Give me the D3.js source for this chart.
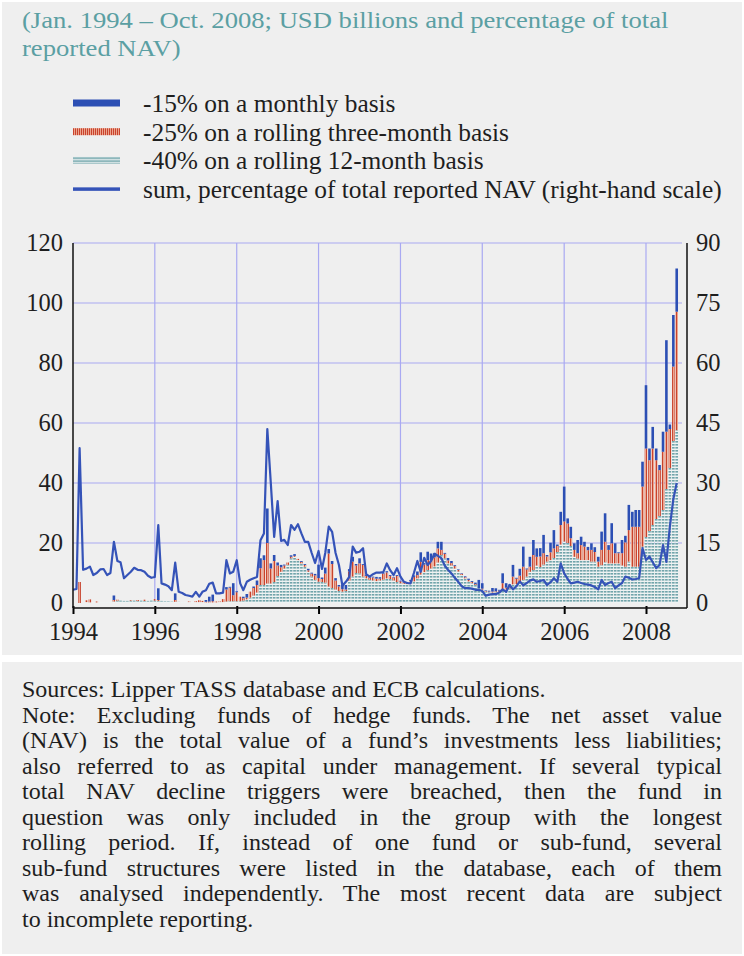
<!DOCTYPE html>
<html>
<head>
<meta charset="utf-8">
<script src="https://cdnjs.cloudflare.com/ajax/libs/d3/7.8.5/d3.min.js"></script>
<style>
    body { margin: 0; background: #fff; }
    svg text { font-family: "Liberation Serif", "DejaVu Serif", serif; }
</style>
</head>
<body>
<div id="c"></div>
<script>
"use strict";

// ---- data ----
const titleLines = [
    "(Jan. 1994 \u2013 Oct. 2008; USD billions and percentage of total",
    "reported NAV)"
]
const legendLabels = [
    "-15% on a monthly basis",
    "-25% on a rolling three-month basis",
    "-40% on a rolling 12-month basis",
    "sum, percentage of total reported NAV (right-hand scale)"
]
const noteLines = [
    "Sources: Lipper TASS database and ECB calculations.",
    "Note: Excluding funds of hedge funds. The net asset value",
    "(NAV) is the total value of a fund\u2019s investments less liabilities;",
    "also referred to as capital under management. If several typical",
    "total NAV decline triggers were breached, then the fund in",
    "question was only included in the group with the longest",
    "rolling period. If, instead of one fund or sub-fund, several",
    "sub-fund structures were listed in the database, each of them",
    "was analysed independently. The most recent data are subject",
    "to incomplete reporting."
]
const yearTicks = [1994, 1996, 1998, 2000, 2002, 2004, 2006, 2008]
const leftTicks = [0, 20, 40, 60, 80, 100, 120]
const rightTicks = [0, 15, 30, 45, 60, 75, 90]
const firstYear = 1994
const monthCount = 178   // Jan 1994 .. Oct 2008

// USD billions, -40% on a rolling 12-month basis (one row per year)
const teal12m = [
    0, 0, 0, 0, 0.3, 0.2, 0.3, 0.2, 0.2, 0.2, 0.2, 0.2,
    0.5, 0.8, 0.8, 0.7, 0.7, 0.8, 0.8, 0.7, 0.8, 0.7, 0.7, 0.8,
    0.8, 0.7, 0.7, 0.6, 0.6, 0.5, 0.4, 0.4, 0.3, 0.3, 0.3, 0.3,
    0.3, 0.3, 0.3, 0.2, 0.2, 0.2, 0.2, 0.3, 0.3, 0.5, 0.6, 0.6,
    0.6, 0.6, 0.8, 1.2, 1.8, 2.5, 3.5, 6.0, 6.0, 6.5, 6.5, 7.0,
    9.0, 10.4, 11.5, 12.7, 14.9, 15.4, 14.3, 13.2, 12.1, 10.4, 8.8, 7.7,
    7.1, 7.0, 6.8, 5.5, 5.0, 4.5, 4.0, 3.8, 4.0, 7.5, 8.8, 10.0,
    9.9, 8.8, 8.2, 7.7, 7.5, 7.3, 7.5, 7.8, 8.2, 8.0, 7.5, 7.0,
    6.6, 6.4, 6.3, 6.5, 7.2, 8.2, 9.5, 10.3, 11.0, 11.5, 12.2, 13.5,
    16.0, 14.9, 13.2, 12.5, 11.5, 10.5, 9.3, 8.2, 7.2, 6.6, 6.0, 4.9,
    4.5, 3.8, 3.6, 3.5, 3.6, 3.8, 4.2, 4.5, 4.9, 6.2, 6.3, 7.0,
    7.7, 8.8, 10.4, 11.0, 12.5, 12.0, 12.8, 13.8, 14.3, 15.0, 17.0, 19.5,
    20.5, 20.0, 19.0, 15.4, 14.8, 14.3, 14.3, 14.3, 13.8, 13.8, 12.1, 12.6,
    13.6, 13.2, 13.2, 13.2, 13.2, 12.5, 12.1, 13.8, 12.1, 12.1, 12.1, 18.8,
    22, 24, 26, 28, 29, 31, 38, 45, 54, 57.6
]
// USD billions, -25% on a rolling three-month basis
const red3m = [
    0, 0, 7.0, 0, 0.6, 1.0, 0, 0.3, 0, 0, 0, 0,
    0.5, 0.3, 0, 0, 0, 0.2, 0, 0.3, 0, 0.4, 0, 0,
    0.5, 0.3, 0, 0, 0, 0, 0.6, 0, 0, 0, 0.2, 0,
    0.3, 0.6, 0.4, 0.2, 0.3, 0.4, 0.3, 0.2, 1.0, 4.0, 4.5, 2.0,
    3.0, 1.5, 0.8, 0.6, 2.0, 2.5, 2.5, 5.6, 8.3, 13.5, 5.0, 7.0,
    3.5, 1.5, 1.0, 0.8, 0.5, 0.3, 0.4, 0.5, 0.6, 0.5, 1.0, 1.5,
    1.2, 1.0, 3.0, 11.0, 8.0, 3.0, 1.5, 0.8, 0.5, 3.0, 5.0, 2.5,
    3.3, 3.9, 0.8, 0.8, 1.0, 0.8, 0.6, 2.0, 2.0, 1.0, 1.0, 2.0,
    0.6, 0.5, 0.4, 0.8, 1.5, 1.1, 4.2, 2.5, 3.3, 2.8, 3.0, 4.7,
    1.7, 1.5, 1.0, 0.8, 0.8, 0.5, 0.4, 0.4, 0.5, 0.4, 0.3, 0,
    0.3, 0.2, 0.2, 0.3, 0.3, 0.3, 2.4, 0.6, 1.0, 2.6, 1.8, 2.1,
    4.4, 2.4, 1.7, 5.0, 2.9, 3.5, 3.8, 1.7, 2.6, 3.2, 2.0, 6.5,
    6.7, 6.5, 2.6, 2.3, 1.8, 5.0, 4.5, 3.3, 3.9, 3.2, 1.7, 5.1,
    6.8, 4.5, 6.7, 3.4, 3.4, 4.1, 8.1, 10.5, 13.3, 13.3, 13.3, 20.0,
    29.5, 23.6, 25.5, 19.6, 15.3, 19.4, 19.1, 13.0, 24.8, 39.5
]
// USD billions, -15% on a monthly basis
const blue1m = [
    0, 0, 0, 0, 0, 0, 0, 0, 0, 0, 0, 0,
    1.5, 0, 0, 0, 0, 0, 0, 0, 0, 0, 0, 0,
    0, 3.9, 0, 0, 0, 0, 2.2, 0, 0, 0, 0, 0,
    0, 0, 0, 0.6, 1.6, 2.2, 0, 0, 0, 0.8, 0.3, 4.0,
    0.3, 0, 0.5, 1.2, 0, 0.5, 1.5, 3.3, 1.6, 11.5, 1.7, 2.0,
    1.0, 0.8, 0.3, 0, 0.5, 0.6, 0, 0.3, 0.3, 0.5, 0.3, 0.5,
    4.5, 0.5, 2.0, 1.5, 1.0, 0.8, 0.5, 1.5, 1.5, 0.8, 1.6, 0.5,
    1.7, 0.3, 0.3, 0.5, 0.3, 0.6, 0.5, 0.3, 0.4, 0.3, 0.2, 0.3,
    0.2, 0.2, 0.3, 0.4, 0.5, 1.2, 3.2, 0.5, 2.8, 2.2, 1.5, 2.2,
    2.7, 0.3, 0.8, 0.7, 0.3, 0.2, 0.2, 0.3, 0.4, 0.3, 0.5, 2.8,
    1.8, 0.2, 0.3, 1.2, 1.0, 0.3, 3.3, 1.5, 0.3, 3.9, 0.3, 2.3,
    6.7, 0.3, 3.3, 5.0, 2.8, 2.8, 6.1, 0.5, 3.2, 6.1, 0.5, 4.4,
    11.6, 1.7, 3.8, 2.2, 4.4, 2.8, 1.6, 1.1, 2.2, 1.6, 1.6, 6.1,
    9.5, 1.6, 6.7, 3.3, 0.3, 4.4, 2.2, 8.4, 5.0, 5.6, 5.6, 8.3,
    21.1, 3.9, 7.2, 3.9, 1.7, 6.7, 30.5, 1.5, 17.2, 14.4
]
// sum, percentage of total reported NAV (right-hand scale)
const navShare = [
    3.3, 3.5, 38.7, 8.3, 8.6, 9.1, 7.0, 7.5, 8.4, 8.5, 7.0, 7.5,
    15.3, 10.5, 10.2, 6.2, 7.0, 7.8, 8.8, 8.3, 8.2, 7.8, 6.8, 6.3,
    6.5, 19.5, 4.9, 4.6, 4.2, 3.2, 10.1, 2.8, 2.5, 2.0, 1.8, 1.6,
    2.8, 1.6, 2.8, 3.2, 4.8, 5.1, 2.4, 2.4, 2.6, 10.7, 7.4, 7.8,
    10.7, 4.9, 3.2, 5.3, 5.8, 6.2, 6.5, 15.7, 17.4, 43.5, 30.0, 16.5,
    25.5, 15.5, 15.8, 14.5, 19.5, 18.3, 19.7, 17.4, 15.3, 15.3, 12.5, 10.0,
    13.0, 8.5, 12.5, 19.1, 17.8, 12.5, 9.5, 4.3, 5.3, 6.5, 14.1, 12.6,
    12.8, 13.7, 7.2, 6.6, 7.2, 7.6, 7.6, 7.7, 9.9, 8.2, 7.0, 8.7,
    6.6, 5.3, 5.0, 4.9, 7.5, 10.5, 7.8, 11.3, 9.5, 10.5, 12.3, 11.8,
    11.2, 9.3, 8.3, 7.4, 6.3, 5.3, 4.2, 3.7, 3.7, 3.6, 3.3, 3.3,
    3.0, 1.8, 2.1, 2.2, 2.2, 2.6, 3.4, 2.8, 4.5, 3.4, 4.2, 5.4,
    4.4, 5.0, 5.6, 5.9, 5.3, 5.5, 5.75, 4.5, 5.2, 6.2, 5.3, 9.9,
    7.4, 6.0, 4.9, 5.1, 5.3, 5.0, 4.75, 4.6, 4.4, 4.0, 3.4, 5.75,
    4.5, 5.0, 5.3, 3.7, 4.4, 5.0, 6.6, 6.3, 5.9, 6.0, 6.2, 13.7,
    10.75, 11.6, 10.2, 8.7, 9.5, 14.5, 10.3, 19.1, 26.0, 30.0
]

// ---- layout ----
const W = 744, H = 956
const plot = {left: 73, right: 682, top: 243, bottom: 603, axisY: 608, axisRight: 687}
const colors = {
    bg: "#efefef", grid: "#a9a9f2", blue: "#2c4fb4", line: "#3553b8",
    red: "#c8432d", salmon: "#eda48d", teal: "#70a4aa", tealLight: "#eef4f4",
    title: "#5b9fa3", text: "#1e1e1e"
}
const labelSize = '24.5px'

let svg
let xScale, yLeft, yRight
let rows

window.onload = function() {
    createFigure()
    drawChart()
    drawLegend()
    drawText()
}

function createFigure() {
    svg = d3.select('#c').append('svg')
        .attr('width', W).attr('height', H)
    svg.append('rect').attr('width', W).attr('height', H).attr('fill', '#fff')
    svg.append('rect').attr('x', 2).attr('y', 2)
        .attr('width', W - 4).attr('height', 653).attr('fill', colors.bg)
    svg.append('rect').attr('x', 2).attr('y', 662)
        .attr('width', W - 4).attr('height', H - 664).attr('fill', colors.bg)

    let defs = svg.append('defs')
    let pr = defs.append('pattern').attr('id', 'hatchRed')
        .attr('patternUnits', 'userSpaceOnUse')
        .attr('width', 2).attr('height', 4)
    pr.append('rect').attr('width', 2).attr('height', 4).attr('fill', colors.salmon)
    pr.append('rect').attr('width', 1).attr('height', 4).attr('fill', colors.red)

    let pt = defs.append('pattern').attr('id', 'hatchTeal')
        .attr('patternUnits', 'userSpaceOnUse')
        .attr('width', 4).attr('height', 3)
    pt.append('rect').attr('width', 4).attr('height', 3).attr('fill', colors.tealLight)
    pt.append('rect').attr('width', 4).attr('height', 1.6).attr('fill', colors.teal)
}

function drawChart() {
    rows = d3.range(monthCount).map(i => ({
        date: new Date(firstYear, i, 1),
        teal: teal12m[i], red: red3m[i], blue: blue1m[i], share: navShare[i]
    }))

    xScale = d3.scaleTime()
        .domain([new Date(1994, 0, 1), new Date(2008, 0, 1)])
        .range([plot.left, 646])
    yLeft = d3.scaleLinear().domain([0, 120]).range([plot.bottom, plot.top])
    yRight = d3.scaleLinear().domain([0, 90]).range([plot.bottom, plot.top])

    // grid
    let grid = svg.append('g')
        .attr('stroke', colors.grid).attr('stroke-width', 1.2)
    grid.selectAll('line.h')
        .data(leftTicks.filter(d => d > 0))
        .enter().append('line')
            .attr('x1', plot.left).attr('x2', plot.right)
            .attr('y1', d => yLeft(d)).attr('y2', d => yLeft(d))
    grid.selectAll('line.v')
        .data(yearTicks.slice(1))
        .enter().append('line')
            .attr('x1', d => xScale(new Date(d, 0, 1)))
            .attr('x2', d => xScale(new Date(d, 0, 1)))
            .attr('y1', plot.top).attr('y2', plot.bottom)

    // stacked bars
    const fills = {teal: 'url(#hatchTeal)', red: 'url(#hatchRed)', blue: colors.blue}
    const bw = 2.6
    let series = d3.stack().keys(['teal', 'red', 'blue'])(rows)
    svg.append('g').selectAll('g')
        .data(series)
        .enter().append('g')
            .attr('fill', s => fills[s.key])
        .selectAll('rect')
        .data(s => s.filter(d => d[1] - d[0] > 0))
        .enter().append('rect')
            .attr('x', d => xScale(d.data.date) - bw / 2)
            .attr('width', bw)
            .attr('y', d => yLeft(d[1]))
            .attr('height', d => yLeft(d[0]) - yLeft(d[1]))

    // NAV share line
    svg.append('path')
        .datum(rows)
        .attr('fill', 'none')
        .attr('stroke', colors.line)
        .attr('stroke-width', 2.2)
        .attr('stroke-linejoin', 'round')
        .attr('d', d3.line()
            .x(d => xScale(d.date))
            .y(d => yRight(d.share)))

    // axes
    let xAxis = svg.append('g')
        .attr('transform', 'translate(0,' + plot.axisY + ')')
        .call(d3.axisBottom(xScale)
            .tickValues(yearTicks.map(y => new Date(y, 0, 1)))
            .tickFormat(d3.timeFormat('%Y'))
            .tickSize(6).tickPadding(9))
    xAxis.select('.domain').remove()
    xAxis.selectAll('.tick line').attr('y1', -2).attr('stroke-width', 2)
    xAxis.selectAll('text')
        .style('font-size', labelSize).attr('fill', colors.text)
        .attr('dy', '0.71em')

    let leftAxis = svg.append('g')
        .attr('transform', 'translate(' + plot.left + ',0)')
        .call(d3.axisLeft(yLeft).tickValues(leftTicks).tickSize(0).tickPadding(10))
    leftAxis.select('.domain').remove()
    leftAxis.selectAll('text').style('font-size', labelSize).attr('fill', colors.text)

    let rightAxis = svg.append('g')
        .attr('transform', 'translate(' + plot.axisRight + ',0)')
        .call(d3.axisRight(yRight).tickValues(rightTicks).tickSize(0).tickPadding(9))
    rightAxis.select('.domain').remove()
    rightAxis.selectAll('text').style('font-size', labelSize).attr('fill', colors.text)

    let frame = svg.append('g').attr('stroke', '#111').attr('stroke-width', 1.5)
    frame.append('line')
        .attr('x1', plot.left).attr('x2', plot.left)
        .attr('y1', plot.top).attr('y2', plot.axisY)
    frame.append('line')
        .attr('x1', plot.axisRight).attr('x2', plot.axisRight)
        .attr('y1', plot.top).attr('y2', plot.axisY)
    frame.append('line')
        .attr('x1', plot.left).attr('x2', plot.axisRight)
        .attr('y1', plot.axisY).attr('y2', plot.axisY)
}

function drawLegend() {
    const swatch = [
        {fill: colors.blue, h: 7},
        {fill: 'url(#hatchRed)', h: 7},
        {fill: 'url(#hatchTeal)', h: 7},
        {fill: colors.line, h: 3.5}
    ]
    let g = svg.append('g').attr('transform', 'translate(73,103)')
    legendLabels.forEach((label, i) => {
        let item = g.append('g').attr('transform', 'translate(0,' + i * 28.7 + ')')
        item.append('rect')
            .attr('x', 0).attr('y', -swatch[i].h / 2)
            .attr('width', 47).attr('height', swatch[i].h)
            .attr('fill', swatch[i].fill)
        item.append('text')
            .attr('x', 70).attr('y', 0)
            .attr('dy', '0.35em')
            .style('font-size', '25.4px')
            .attr('fill', colors.text)
            .text(label)
    })
}

function drawText() {
    // title: wide serif face, stretched a little horizontally
    svg.append('g').selectAll('text')
        .data(titleLines)
        .enter().append('text')
            .attr('transform', (d, i) => 'translate(22,' + (20 + i * 27.5) + ') scale(1.11,1)')
            .attr('dy', '0.35em')
            .style('font-size', '24px')
            .attr('fill', colors.title)
            .text(d => d)

    // justified note block
    const left = 22, right = 722
    let notes = svg.append('g').selectAll('text')
        .data(noteLines)
        .enter().append('text')
            .attr('x', left).attr('y', (d, i) => 689 + i * 25.5)
            .attr('dy', '0.35em')
            .style('font-size', '24px')
            .attr('fill', colors.text)
            .text(d => d)
    notes.each(function(d, i) {
        if (i == 0 || i == noteLines.length - 1) return
        let w = this.getComputedTextLength()
        let gaps = d.split(' ').length - 1
        d3.select(this).attr('word-spacing', (right - left - w) / gaps)
    })
}
</script>
</body>
</html>
